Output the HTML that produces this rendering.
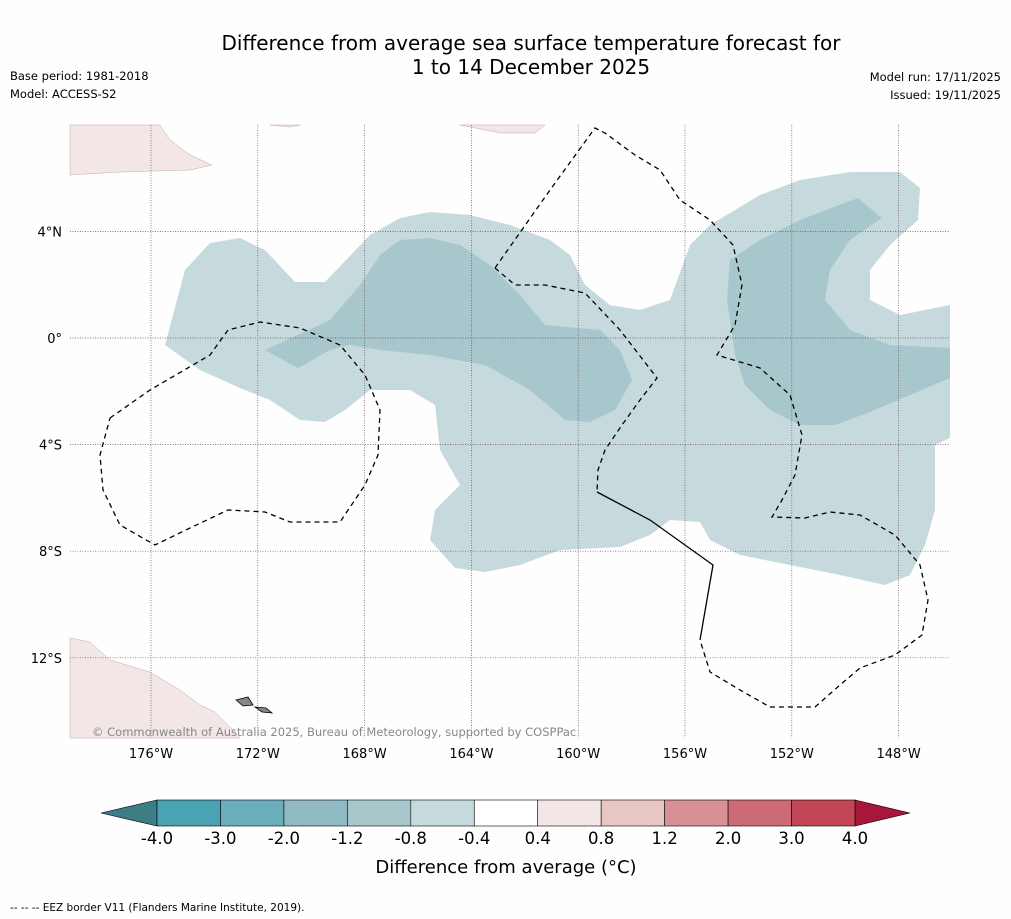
<!DOCTYPE html>
<html><head><meta charset="utf-8"><style>
body{margin:0;background:#fefefe;font-family:"DejaVu Sans","Liberation Sans",sans-serif;}
svg{display:block;font-family:"DejaVu Sans","Liberation Sans",sans-serif;}
</style></head><body>
<svg width="1011" height="919" viewBox="0 0 1011 919" xmlns="http://www.w3.org/2000/svg">
<rect width="1011" height="919" fill="#fefefe"/>
<text x="531" y="50" font-size="20" text-anchor="middle">Difference from average sea surface temperature forecast for</text>
<text x="531" y="74" font-size="20" text-anchor="middle">1 to 14 December 2025</text>
<text x="10" y="80" font-size="11.5">Base period: 1981-2018</text>
<text x="10" y="98" font-size="11.5">Model: ACCESS-S2</text>
<text x="1001" y="81" font-size="11.5" text-anchor="end">Model run: 17/11/2025</text>
<text x="1001" y="99" font-size="11.5" text-anchor="end">Issued: 19/11/2025</text>

<g>
<polygon fill="#c6dadd" points="165,345 185,270 210,243 240,238 265,250 295,282 325,282 370,235 400,218 430,212 470,215 510,225 550,240 570,255 585,285 610,305 640,310 670,300 690,245 710,225 760,195 800,180 850,172 900,172 920,188 918,220 890,245 870,270 870,300 900,315 950,305 950,438 935,445 935,510 925,545 910,575 885,585 840,575 790,565 740,555 710,540 700,522 670,520 650,535 620,547 560,550 520,565 485,572 455,568 430,540 435,510 460,485 440,450 435,405 410,390 370,390 345,410 325,422 300,420 270,400 240,388 200,370"/>
<polygon fill="#a8c7cc" points="265,350 330,320 360,285 380,255 400,240 430,238 460,245 490,265 520,295 545,325 600,330 620,350 632,380 615,410 590,422 565,420 530,390 485,365 430,355 380,350 350,345 330,350 298,368"/>
<polygon fill="#a8c7cc" points="730,260 760,240 800,220 858,198 882,218 850,240 830,270 825,300 850,330 890,345 950,348 950,378 910,395 870,412 835,425 800,425 770,410 745,385 735,355 727,300"/>
<polygon fill="#f3e6e6" stroke="#c9a9a9" stroke-width="0.5" points="70,125 160,125 170,140 190,155 212,165 190,170 120,172 70,175"/>
<polygon fill="#f3e6e6" stroke="#c9a9a9" stroke-width="0.5" points="460,125 545,125 535,133 500,133"/>
<polygon fill="#f3e6e6" stroke="#c9a9a9" stroke-width="0.5" points="270,125 300,125 290,127"/>
<polygon fill="#f3e6e6" stroke="#c9a9a9" stroke-width="0.5" points="70,638 90,642 110,660 150,672 180,690 200,705 215,712 235,732 240,738 70,738"/>
<polygon fill="#888" stroke="#000" stroke-width="0.8" points="236,700 248,697 253,705 243,706"/>
<polygon fill="#888" stroke="#000" stroke-width="0.8" points="255,707 266,708 272,713 262,712"/>
<g id="grid"></g>
<g fill="none" stroke="#000" stroke-width="1.3" stroke-dasharray="5,4">
<polyline points="110,418 150,390 210,355 228,330 260,322 300,328 340,345 365,375 380,410 378,455 365,485 340,522 290,522 265,512 228,510 190,528 155,545 120,525 103,490 100,455 110,418"/>
<polyline points="495,268 550,190 595,128 605,133 635,155 660,170 680,200 710,220 733,245 742,285 735,325 717,355 760,368 790,395 802,435 795,475 782,500 772,517 805,518 830,512 860,515 895,535 920,565 928,600 922,635 895,655 860,668 840,685 815,707 770,707 740,690 710,672 700,640"/>
<polyline points="495,268 515,285 545,285 585,293 620,330 657,378 640,400 622,425 605,450 598,470 597,492"/>
</g>
<polyline fill="none" stroke="#000" stroke-width="1.3" points="597,492 650,520 713,565 700,640"/>
<text x="92" y="736" font-size="11.5" fill="#888">© Commonwealth of Australia 2025, Bureau of Meteorology, supported by COSPPac</text>
</g>
<g id="ticks"></g>
<g id="cbar"></g>
<text x="506" y="873" font-size="18" text-anchor="middle">Difference from average (°C)</text>
<text x="10" y="911" font-size="10.5">--  --  -- EEZ border V11 (Flanders Marine Institute, 2019).</text>
</svg>
<script>
const lonTicks=[-176,-172,-168,-164,-160,-156,-152,-148];
const latTicks=[4,0,-4,-8,-12];
const binLabels=["-4.0","-3.0","-2.0","-1.2","-0.8","-0.4","0.4","0.8","1.2","2.0","3.0","4.0"];
const binColors=["#4aa3b3","#6aafbb","#8fbac3","#a8c7cc","#c6dadd","#ffffff","#f3e6e6","#e8c6c4","#d88f96","#cc6a75","#c04656"];
const NS="http://www.w3.org/2000/svg";
const xs=lon=>151+(lon+176)*26.7;
const ys=lat=>338-lat*26.65;
function mk(t,a,p){const e=document.createElementNS(NS,t);for(const k in a)e.setAttribute(k,a[k]);p.appendChild(e);return e;}
const grid=document.getElementById('grid'),ticks=document.getElementById('ticks'),cb=document.getElementById('cbar');
lonTicks.forEach(l=>{
 const ln=mk('line',{x1:xs(l),x2:xs(l),y1:125,y2:738,stroke:'#6a4a5a','stroke-width':0.7,'stroke-dasharray':'1,1.5'},grid);
 
 
 const t=mk('text',{x:xs(l),y:758,'font-size':13,'text-anchor':'middle'},ticks);
 t.textContent=Math.abs(l)+'°W';
 
 
});
latTicks.forEach(l=>{
 const ln=mk('line',{x1:70,x2:950,y1:ys(l),y2:ys(l),stroke:'#6a4a5a','stroke-width':0.7,'stroke-dasharray':'1,1.5'},grid);
 
 
 const t=mk('text',{x:62,y:ys(l)+5,'font-size':13,'text-anchor':'end'},ticks);
 t.textContent=l===0?'0°':Math.abs(l)+'°'+(l>0?'N':'S');
 
 
});
const x0=157,x1=855,w=(x1-x0)/binColors.length,y0=800,h=26;
const lt=mk('polygon',{points:`101,${y0+h/2} ${x0},${y0} ${x0},${y0+h}`,fill:'#3d7d86',stroke:'#000','stroke-width':0.6},cb);


const rt=mk('polygon',{points:`910,${y0+h/2} ${x1},${y0} ${x1},${y0+h}`,fill:'#a8163a',stroke:'#000','stroke-width':0.6},cb);


binColors.forEach((c,i)=>{
 const r=mk('rect',{x:x0+i*w,y:y0,width:w,height:h,fill:c,stroke:'#000','stroke-width':0.6},cb);
 
 
});
binLabels.forEach((s,i)=>{
 const t=mk('text',{x:x0+i*w,y:844,'font-size':16.5,'text-anchor':'middle'},cb);
 t.textContent=s;
 
 
});
</script>
</body></html>
